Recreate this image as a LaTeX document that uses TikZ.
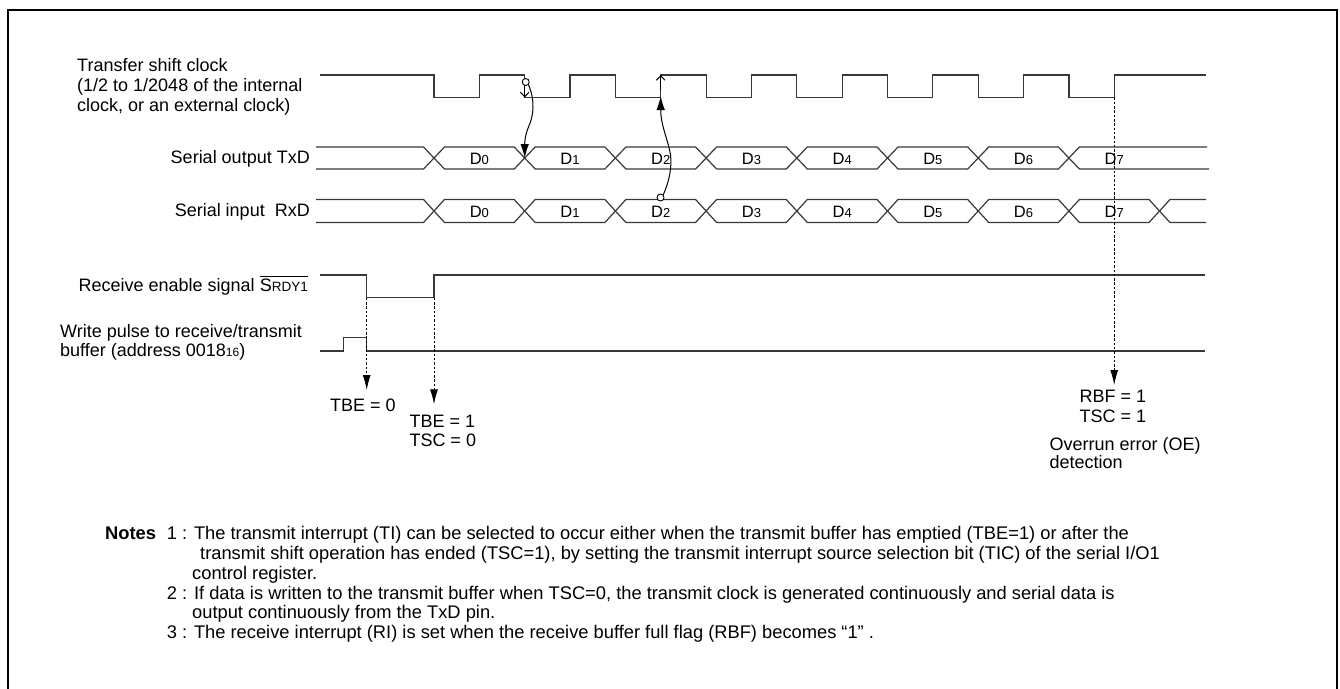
\documentclass[tikz,border=0pt]{standalone}
\usepackage{fontspec}
\setmainfont{Liberation Sans}
\usetikzlibrary{arrows.meta}
\newcommand\dsub[1]{D{\fontsize{13}{13}\selectfont #1}}
\newcommand\ovlbar[1]{\vbox{\hrule height 0.9pt \kern 2.5pt \hbox{#1}}}
\begin{document}
\begin{tikzpicture}[x=1pt,y=-1pt,
  wave/.style={line width=1.2pt,draw=black!78},
  lab/.style={inner sep=0pt,font=\fontsize{18}{20}\selectfont},
  dlab/.style={inner sep=0pt,font=\fontsize{16.5}{18}\selectfont},
  note/.style={inner sep=0pt,anchor=base west,font=\fontsize{18.3}{20}\selectfont},
  dotarrow/.style={line width=1pt,dash pattern=on 2.5pt off 1.8pt,-{Latex[length=15pt,width=8pt]}},
  curvearrow/.style={line width=1pt,-{Latex[length=14pt,width=8.5pt]}},
  barb/.style={line width=1pt,-{Straight Barb[length=4.5pt,width=8.5pt]}},
  ringmark/.style={circle,draw,fill=white,inner sep=0pt,minimum size=7pt,line width=0.9pt}]
\useasboundingbox (0,0) rectangle (1340,688);
% frame
\draw[line width=2pt] (8,700) -- (8,9.5) -- (1336.5,9.5) -- (1336.5,700);

% ---------- labels ----------
\node[lab,anchor=base west] (lclk1) at (77,71.7) {Transfer shift clock};
\node[lab,anchor=base west] (lclk2) at (77,91.7) {(1/2 to 1/2048 of the internal};
\node[lab,anchor=base west] (lclk3) at (77,111.7) {clock, or an external clock)};
\node[lab,anchor=base east] (ltx) at (310,163) {Serial output TxD};
\node[lab,anchor=base east] (lrx) at (310,216) {Serial input\ \ RxD};
\node[lab,anchor=base east] (lsrdy) at (308,291.7) {Receive enable signal \ovlbar{S{\fontsize{13.5}{14}\selectfont RDY1}}};
\node[lab,anchor=base west] (lwr1) at (60,337.5) {Write pulse to receive/transmit};
\node[lab,anchor=base west] (lwr2) at (60,356) {buffer (address 0018\raisebox{-0.5pt}{\fontsize{12}{12}\selectfont 16})};

% ---------- transfer shift clock ----------
\draw[wave] (320,75) foreach \k in {0,...,7} {
  -- ({434+90.7*\k},75) -- ({434+90.7*\k},97.5) -- ({479.35+90.7*\k},97.5) -- ({479.35+90.7*\k},75) }
  -- (1206,75);

% ---------- TxD bus ----------
\draw[wave] (316,147) foreach \k in {0,2,4,6} {
  -- ({423.5+90.7*\k},147) -- ({444.5+90.7*\k},169) -- ({423.5+90.7*(\k+1)},169) -- ({444.5+90.7*(\k+1)},147) }
  -- (1207,147);
\draw[wave] (316,169) foreach \k in {0,2,4,6} {
  -- ({423.5+90.7*\k},169) -- ({444.5+90.7*\k},147) -- ({423.5+90.7*(\k+1)},147) -- ({444.5+90.7*(\k+1)},169) }
  -- (1209,169);
\foreach \k in {0,...,7} {
  \node[dlab] (tx\k) at ({479.35+90.7*\k},158.8) {\dsub{\k}};
}

% ---------- RxD bus ----------
\draw[wave] (316,199.5) foreach \k in {0,2,4,6} {
  -- ({423.5+90.7*\k},199.5) -- ({444.5+90.7*\k},222.5) -- ({423.5+90.7*(\k+1)},222.5) -- ({444.5+90.7*(\k+1)},199.5) }
  -- (1149,199.5) -- (1170,222.5) -- (1206,222.5);
\draw[wave] (316,222.5) foreach \k in {0,2,4,6} {
  -- ({423.5+90.7*\k},222.5) -- ({444.5+90.7*\k},199.5) -- ({423.5+90.7*(\k+1)},199.5) -- ({444.5+90.7*(\k+1)},222.5) }
  -- (1149,222.5) -- (1170,199.5) -- (1206,199.5);
\foreach \k in {0,...,7} {
  \node[dlab] (rx\k) at ({479.35+90.7*\k},212) {\dsub{\k}};
}

% ---------- SRDY1 ----------
\draw[wave] (320,275) -- (366.7,275) -- (366.7,297.7) -- (434,297.7) -- (434,275) -- (1205,275);
% ---------- write pulse ----------
\draw[wave] (320,351) -- (343.3,351) -- (343.3,337.7) -- (366.3,337.7) -- (366.3,351) -- (1205,351);

% ---------- coordinates ----------
\coordinate (clkF1top) at (524.7,86);
\coordinate (clkF1low) at (524.7,97.5);
\coordinate (clkR2low) at (660.7,90);
\coordinate (clkR2top) at (660.7,75);
\coordinate (txX1) at (524.7,158);
\coordinate (clkR2arr) at (660.7,96);
\coordinate (srdyF) at (366.7,297.7);
\coordinate (srdyR) at (434,297.7);
\coordinate (clkR7) at (1114.2,97.5);
\coordinate (tipA) at (366.7,390);
\coordinate (tipB) at (434,404.3);
\coordinate (tipC) at (1114.2,385);

% edge marks
\draw[barb] (clkF1top) -- (clkF1low);
\draw[barb] (clkR2low) -- (clkR2top);

% circles and curved arrows
\node[ringmark] (m1) at (525.7,82) {};
\node[ringmark] (m2) at (660.5,197.5) {};
\draw[curvearrow] (m1.south east) .. controls (535,100) and (534,115) .. (528.5,127)
  .. controls (524.5,136) and (524.7,145) .. (txX1);
\draw[curvearrow] (m2.north east) .. controls (668,184) and (673,168) .. (670,152)
  .. controls (667,137) and (660.7,125) .. (clkR2arr);

% dotted arrows
\draw[dotarrow] (srdyF) -- (tipA);
\draw[dotarrow] (srdyR) -- (tipB);
\draw[dotarrow] (clkR7) -- (tipC);

% flag labels
\node[lab,anchor=base west] (tbe0) at (330,411.7) {TBE = 0};
\node[lab,anchor=base west] (tbe1) at (409.3,427.3) {TBE = 1};
\node[lab,anchor=base west] (tsc0) at (409.3,446.7) {TSC = 0};
\node[lab,anchor=base west] (rbf1) at (1079.3,402.7) {RBF = 1};
\node[lab,anchor=base west] (tsc1) at (1079.3,422.7) {TSC = 1};
\node[lab,anchor=base west] (oe1) at (1049.3,450) {Overrun error (OE)};
\node[lab,anchor=base west] (oe2) at (1049.3,468.3) {detection};

% notes
\node[note] (nh) at (105,539) {\bfseries Notes};
\node[note] (n1a) at (166.7,539) {1 : The transmit interrupt (TI) can be selected to occur either when the transmit buffer has emptied (TBE=1) or after the};
\node[note] (n1b) at (200,559) {transmit shift operation has ended (TSC=1), by setting the transmit interrupt source selection bit (TIC) of the serial I/O1};
\node[note] (n1c) at (192,579) {control register.};
\node[note] (n2a) at (166.7,599) {2 : If data is written to the transmit buffer when TSC=0, the transmit clock is generated continuously and serial data is};
\node[note] (n2b) at (192,618.5) {output continuously from the TxD pin.};
\node[note] (n3) at (166.7,638.5) {3 : The receive interrupt (RI) is set when the receive buffer full flag (RBF) becomes “1” .};
\end{tikzpicture}
\end{document}
